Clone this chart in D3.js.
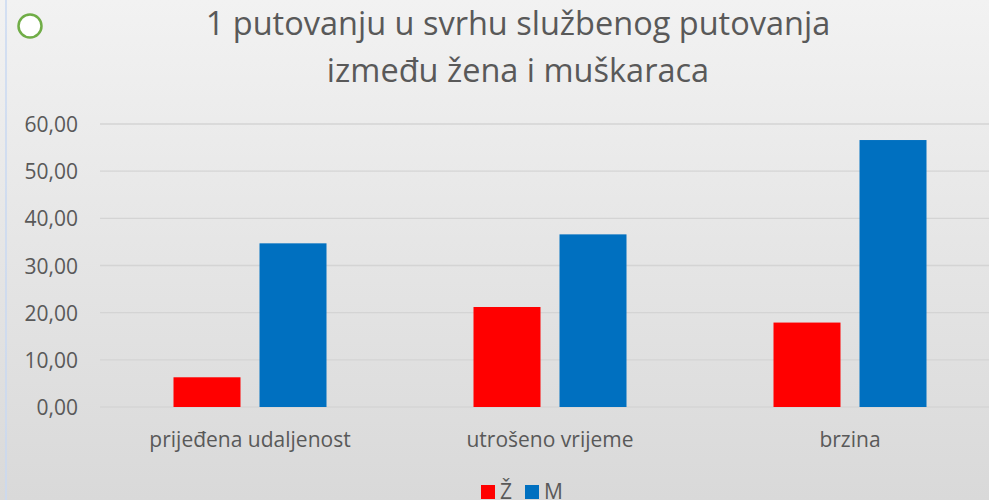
<!DOCTYPE html>
<html>
<head>
<meta charset="utf-8">
<script src="https://cdn.jsdelivr.net/npm/d3@7"></script>
<style>
  body { margin: 0; padding: 0; overflow: hidden; }
  svg { display: block; }
</style>
</head>
<body>
<svg id="chart" width="989" height="500"></svg>
<script>
// data
const categories = ["prijeđena udaljenost", "utrošeno vrijeme", "brzina"];
const seriesNames = ["Ž", "M"];
const zValues = [6.3, 21.2, 17.9];
const mValues = [34.7, 36.6, 56.6];
const yTicks = [0, 10, 20, 30, 40, 50, 60];
const titleLines = ["1 putovanju u svrhu službenog putovanja", "između žena i muškaraca"];

const colors = { "Ž": "#ff0000", "M": "#0070c0" };
const textColor = "#595959";
const font = "'Open Sans', 'Noto Sans', sans-serif";

const width = 989, height = 500;
const plot = { left: 100, right: 1000, top: 124, bottom: 407 };

const rows = categories.map((c, i) => ({ cat: c, "Ž": zValues[i], "M": mValues[i] }));

const svg = d3.select("#chart");

// background gradient
const defs = svg.append("defs");
const grad = defs.append("linearGradient")
    .attr("id", "bg").attr("x1", 0).attr("y1", 0).attr("x2", 0).attr("y2", 1);
grad.append("stop").attr("offset", "0%").attr("stop-color", "#f2f2f2");
grad.append("stop").attr("offset", "100%").attr("stop-color", "#d9d9d9");

svg.append("rect")
    .attr("width", width).attr("height", height)
    .attr("fill", "url(#bg)");

// thin blue line on the left edge
svg.append("line")
    .attr("x1", 6).attr("x2", 6).attr("y1", 0).attr("y2", height)
    .style("stroke", "#c9d9f2").style("stroke-width", 1.5);

// green selection circle
svg.append("circle")
    .attr("cx", 30).attr("cy", 26).attr("r", 11.5)
    .style("fill", "#ffffff").style("stroke", "#70ad47").style("stroke-width", 2.5);

// title
svg.append("text")
    .attr("x", 518).attr("y", 35)
    .attr("text-anchor", "middle")
    .style("font-family", font).style("font-size", "32.5px")
    .style("fill", textColor)
    .selectAll("tspan")
    .data(titleLines)
    .enter()
    .append("tspan")
    .attr("x", 518)
    .attr("dy", (d, i) => i === 0 ? 0 : 47)
    .text(d => d);

const y = d3.scaleLinear().domain([0, 60]).range([plot.bottom, plot.top]);

const x0 = d3.scaleBand()
    .domain(categories)
    .range([plot.left, plot.right])
    .paddingInner(0.49)
    .paddingOuter(0.245);

const x1 = d3.scaleBand()
    .domain(seriesNames)
    .range([0, x0.bandwidth()])
    .paddingInner(0.221);

// gridlines
svg.append("g")
    .selectAll("line")
    .data(yTicks)
    .enter()
    .append("line")
    .attr("x1", plot.left).attr("x2", width)
    .attr("y1", d => y(d)).attr("y2", d => y(d))
    .style("stroke", "#d4d4d4").style("stroke-width", 1.3);

// y axis labels
const yAxis = d3.axisLeft(y)
    .tickValues(yTicks)
    .tickSize(0)
    .tickPadding(0)
    .tickFormat(d => d3.format(".2f")(d).replace(".", ","));

const yg = svg.append("g")
    .attr("transform", "translate(78,0)")
    .call(yAxis);
yg.select(".domain").remove();
yg.selectAll("text")
    .attr("dy", "0.36em")
    .style("font-family", font).style("font-size", "21px")
    .style("fill", textColor);

// bars
const groups = svg.append("g")
    .selectAll("g")
    .data(rows)
    .enter()
    .append("g")
    .attr("transform", d => "translate(" + x0(d.cat) + ",0)");

groups.selectAll("rect")
    .data(d => seriesNames.map(s => ({ key: s, value: d[s] })))
    .enter()
    .append("rect")
    .attr("x", d => x1(d.key))
    .attr("width", x1.bandwidth())
    .attr("y", d => y(d.value))
    .attr("height", d => y(0) - y(d.value))
    .style("fill", d => colors[d.key]);

// x axis labels
const xAxis = d3.axisBottom(x0).tickSize(0).tickPadding(0);
const xg = svg.append("g")
    .attr("transform", "translate(0," + (plot.bottom + 40) + ")")
    .call(xAxis);
xg.select(".domain").remove();
xg.selectAll("text")
    .attr("dy", 0)
    .style("font-family", font).style("font-size", "21px")
    .style("fill", textColor);

// legend
const legendItems = [
    { key: "Ž", x: 481 },
    { key: "M", x: 525 }
];
const legend = svg.append("g");
legend.selectAll("rect")
    .data(legendItems)
    .enter()
    .append("rect")
    .attr("x", d => d.x).attr("y", 485)
    .attr("width", 14).attr("height", 14)
    .style("fill", d => colors[d.key]);
legend.selectAll("text")
    .data(legendItems)
    .enter()
    .append("text")
    .attr("x", d => d.x + 19).attr("y", 499)
    .style("font-family", font).style("font-size", "21px")
    .style("fill", textColor)
    .text(d => d.key);
</script>
</body>
</html>
